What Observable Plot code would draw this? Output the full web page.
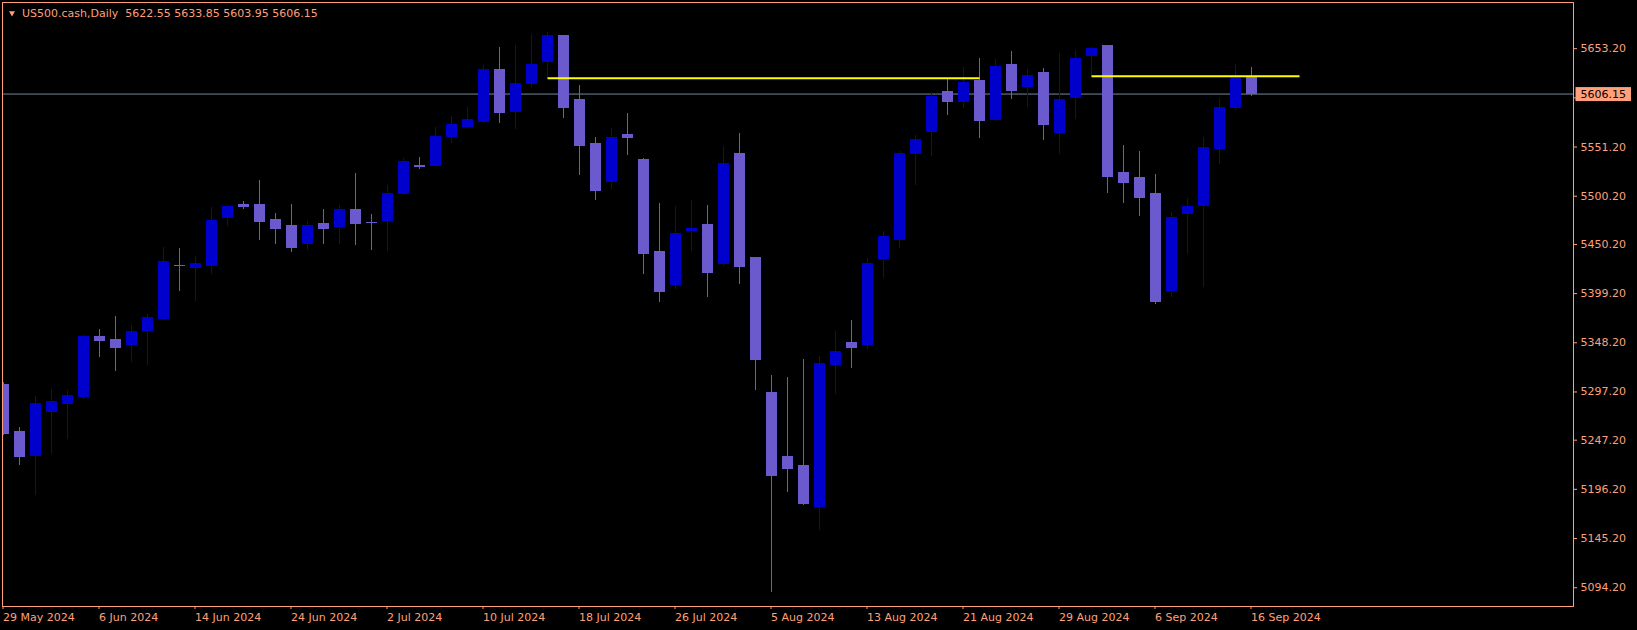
<!DOCTYPE html>
<html><head><meta charset="utf-8">
<script src="https://cdn.jsdelivr.net/npm/d3@7"></script>
<script src="https://cdn.jsdelivr.net/npm/@observablehq/plot@0.6"></script>
<style>html,body{margin:0;padding:0;background:#000;overflow:hidden}</style>
</head><body><div id="chart"></div>
<script>
const symbol = "US500.cash";
const timeframe = "Daily";
const dates = [
"2024-05-29","2024-05-30","2024-05-31","2024-06-03","2024-06-04","2024-06-05","2024-06-06","2024-06-07","2024-06-10","2024-06-11",
"2024-06-12","2024-06-13","2024-06-14","2024-06-17","2024-06-18","2024-06-19","2024-06-20","2024-06-21","2024-06-24","2024-06-25",
"2024-06-26","2024-06-27","2024-06-28","2024-07-01","2024-07-02","2024-07-03","2024-07-04","2024-07-05","2024-07-08","2024-07-09",
"2024-07-10","2024-07-11","2024-07-12","2024-07-15","2024-07-16","2024-07-17","2024-07-18","2024-07-19","2024-07-22","2024-07-23",
"2024-07-24","2024-07-25","2024-07-26","2024-07-29","2024-07-30","2024-07-31","2024-08-01","2024-08-02","2024-08-05","2024-08-06",
"2024-08-07","2024-08-08","2024-08-09","2024-08-12","2024-08-13","2024-08-14","2024-08-15","2024-08-16","2024-08-19","2024-08-20",
"2024-08-21","2024-08-22","2024-08-23","2024-08-26","2024-08-27","2024-08-28","2024-08-29","2024-08-30","2024-09-02","2024-09-03",
"2024-09-04","2024-09-05","2024-09-06","2024-09-09","2024-09-10","2024-09-11","2024-09-12","2024-09-13","2024-09-16"];
const open = [
5304.9,5255.2,5230.6,5276.9,5285.2,5291.5,5354.7,5351.6,5345.4,5360.9,
5372.4,5428.3,5425.6,5427.6,5478.1,5490.6,5491.6,5475.1,5469.8,5450.4,
5470.9,5467.8,5486.4,5472.8,5474.0,5502.3,5531.2,5531.3,5561.1,5572.5,
5576.7,5631.6,5587.3,5616.4,5639.9,5665.9,5599.5,5554.7,5514.6,5564.2,
5537.3,5441.9,5408.4,5463.7,5470.7,5429.5,5544.5,5435.7,5296.3,5230.2,
5219.9,5177.7,5325.5,5348.4,5346.0,5434.6,5455.3,5544.5,5566.6,5607.8,
5597.7,5620.2,5579.0,5636.8,5613.0,5627.5,5565.3,5601.9,5645.4,5655.5,
5523.8,5518.6,5502.0,5401.4,5481.6,5489.9,5548.7,5592.2,5622.55];
const high = [
5307.0,5260.4,5292.2,5299.8,5298.7,5355.8,5362.0,5375.5,5366.2,5377.5,
5447.0,5446.0,5437.7,5488.5,5490.6,5494.7,5516.5,5482.3,5491.6,5474.0,
5486.4,5490.6,5523.8,5481.3,5511.3,5539.3,5540.4,5571.5,5582.9,5592.2,
5635.8,5654.4,5656.5,5667.9,5670.3,5666.9,5615.1,5560.9,5570.8,5586.0,
5539.4,5492.4,5489.5,5495.4,5490.7,5551.8,5565.3,5436.2,5314.2,5312.0,
5330.9,5333.5,5359.7,5371.3,5435.6,5463.6,5546.6,5563.2,5607.8,5622.3,
5633.7,5643.0,5642.0,5650.3,5631.6,5632.7,5648.2,5651.3,5654.4,5656.0,
5552.8,5546.6,5522.7,5483.6,5497.8,5561.1,5601.6,5636.8,5633.85];
const low = [
5252.0,5221.2,5189.8,5232.3,5247.9,5289.4,5332.9,5318.4,5327.8,5324.6,
5371.4,5401.7,5391.3,5419.3,5469.1,5486.4,5454.3,5450.1,5441.8,5443.9,
5450.1,5450.1,5449.1,5443.9,5442.8,5501.0,5527.9,5530.0,5554.9,5572.0,
5575.6,5575.6,5569.4,5613.3,5622.0,5580.8,5522.0,5496.2,5507.4,5542.7,
5419.3,5390.2,5403.4,5443.0,5395.4,5427.3,5408.8,5298.9,5089.6,5193.0,
5179.6,5154.0,5294.2,5321.8,5341.0,5415.2,5445.7,5511.3,5541.4,5583.9,
5591.5,5560.4,5577.7,5600.5,5592.2,5558.0,5543.5,5579.8,5624.7,5503.3,
5493.0,5479.5,5387.9,5395.5,5439.8,5405.5,5533.4,5589.0,5603.95];
const close = [
5254.1,5229.5,5285.2,5287.3,5293.5,5354.7,5349.8,5342.6,5358.9,5374.4,
5431.5,5427.8,5429.4,5474.0,5489.5,5488.8,5473.0,5466.7,5447.0,5468.8,
5465.7,5486.4,5471.9,5472.2,5503.0,5535.2,5530.8,5562.1,5573.6,5579.0,
5630.6,5586.0,5616.1,5635.8,5665.9,5591.2,5552.2,5505.6,5560.9,5560.6,
5440.1,5400.8,5461.5,5466.6,5420.5,5533.9,5427.3,5330.2,5209.7,5217.0,
5180.6,5326.5,5339.0,5342.6,5429.4,5458.4,5543.5,5558.0,5602.6,5597.7,
5618.1,5578.0,5633.7,5609.8,5624.4,5573.6,5600.5,5643.0,5652.4,5519.9,
5513.4,5498.2,5390.3,5478.1,5488.5,5550.7,5591.2,5622.3,5606.15];

const xTickBars = [0,6,12,18,24,30,36,42,48,54,60,66,72,78];
const xTickLabels = ["29 May 2024","6 Jun 2024","14 Jun 2024","24 Jun 2024","2 Jul 2024","10 Jul 2024","18 Jul 2024","26 Jul 2024","5 Aug 2024","13 Aug 2024","21 Aug 2024","29 Aug 2024","6 Sep 2024","16 Sep 2024"];
const yTickValues = [5653.2,5602.2,5551.2,5500.2,5450.2,5399.2,5348.2,5297.2,5247.2,5196.2,5145.2,5094.2];

// horizontal yellow levels (bar index from/to, price)
const levelFrom = [34, 68];
const levelTo = [61, 81];
const levelPrice = [5622.6, 5624.7];

const FG = "#FFA07A";
const BULL = "#0000CD";
const BEAR = "#6A5ACD";
const TAG_TEXT = "#000001";

const bars = dates.map((d, i) => ({i, date: d, open: open[i], high: high[i], low: low[i], close: close[i]}));
const levels = levelFrom.map((f, j) => ({from: f, to: levelTo[j], price: levelPrice[j]}));
const last = bars[bars.length - 1];
const titleText = `${symbol},${timeframe}\u00a0 ${last.open.toFixed(2)} ${last.high.toFixed(2)} ${last.low.toFixed(2)} ${last.close.toFixed(2)}`;
const colorOf = d => d.close > d.open ? BULL : BEAR;
const halfBody = 5.5 / 16;

const chart = Plot.plot({
  width: 1637, height: 630,
  marginLeft: 2, marginRight: 64, marginTop: 2, marginBottom: 24,
  style: {background: "#000", color: FG, fontFamily: "DejaVu Sans", fontSize: "11px"},
  x: {type: "linear", domain: [-1.5 / 16, (1573 - 3.5) / 16], axis: null},
  y: {type: "linear", domain: [5074.7, 5701.1], axis: null},
  color: {type: "identity"},
  marks: [
    Plot.ruleY([last.close], {stroke: "#778899", strokeWidth: 1}),
    Plot.ruleX(bars, {x: "i", y1: "low", y2: "high", stroke: colorOf, strokeWidth: 1, dx: -0.5, clip: true, shapeRendering: "crispEdges"}),
    Plot.rect(bars, {x1: d => d.i - halfBody, x2: d => d.i + halfBody, y1: "open", y2: "close", fill: colorOf, insetTop: -0.5, insetBottom: -0.5, clip: true, shapeRendering: "crispEdges"}),
    Plot.ruleY(levels, {x1: "from", x2: "to", y: "price", stroke: "#FFFF00", strokeWidth: 2}),
    Plot.frame({stroke: FG}),
    Plot.axisY({anchor: "right", ticks: yTickValues, tickFormat: d => d.toFixed(2), tickSize: 3, tickPadding: 4, stroke: FG, fill: FG, fontSize: 11, label: null}),
    Plot.axisX({anchor: "bottom", ticks: xTickBars, tickFormat: i => xTickLabels[xTickBars.indexOf(i)], tickSize: 3, tickPadding: 4, textAnchor: "start", dx: -1, stroke: FG, fill: FG, fontSize: 11, label: null}),
    Plot.text([titleText], {frameAnchor: "top-left", text: d => d, dx: 19.5, dy: 7, textAnchor: "start", lineAnchor: "top", fill: FG, fontSize: 11}),
    Plot.dot([0], {frameAnchor: "top-left", dx: 9.5, dy: 10.5, symbol: "triangle", r: 2.2, rotate: 180, fill: FG, stroke: null}),
    Plot.text([last.close], {y: d => d, frameAnchor: "right", text: d => d.toFixed(2), dx: 7, textAnchor: "start", fill: TAG_TEXT, fontSize: 11})
  ]
});
document.getElementById("chart").append(chart);

// background box behind the current price tag
const tagLabel = last.close.toFixed(2);
const tnode = Array.from(chart.querySelectorAll("text")).find(t => t.textContent === tagLabel && (t.getAttribute("fill") === TAG_TEXT || (t.parentNode && t.parentNode.getAttribute && t.parentNode.getAttribute("fill") === TAG_TEXT)));
if (tnode) {
  const bb = tnode.getBBox();
  const cy = bb.y + bb.height / 2;
  const g = tnode.parentNode;
  const rect = d3.select(g).insert("rect", "text")
    .attr("x", bb.x - 5).attr("width", bb.width + 10)
    .attr("y", cy - 7).attr("height", 14)
    .attr("fill", FG);
  const tf = tnode.getAttribute("transform");
  if (tf) rect.attr("transform", tf);
  let top = g;
  while (top.parentNode && top.parentNode !== chart) top = top.parentNode;
  chart.appendChild(top);
}
</script>
</body></html>
